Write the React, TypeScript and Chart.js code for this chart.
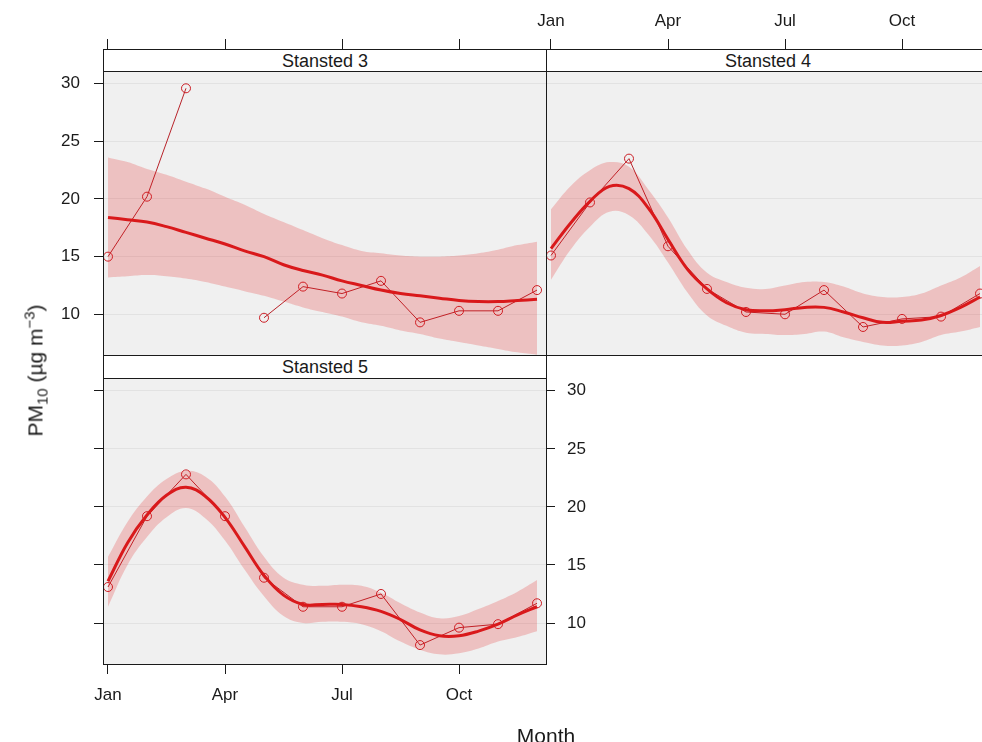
import React, { useEffect, useRef } from 'react';
import { Chart, registerables } from 'chart.js';

Chart.register(...registerables);

// ---------------- data ----------------
const MONTHS = [1, 2, 3, 4, 5, 6, 7, 8, 9, 10, 11, 12];
const FIT_X = [1, 1.5, 2, 2.5, 3, 3.5, 4, 4.5, 5, 5.5, 6, 6.5, 7, 7.5, 8, 8.5, 9, 9.5, 10, 10.5, 11, 11.5, 12];
const MONTH_TICK_VALUES = [1, 4, 7, 10];
const MONTH_TICK_LABELS = ['Jan', 'Apr', 'Jul', 'Oct'];
const Y_TICKS = [10, 15, 20, 25, 30];

const S3_OBS = [15.0, 20.2, 29.6, null, 9.7, 12.4, 11.8, 12.9, 9.3, 10.3, 10.3, 12.1];
const S3_FIT = [18.4, 18.2, 18.0, 17.6, 17.1, 16.6, 16.1, 15.5, 15.0, 14.3, 13.8, 13.4, 12.9, 12.5, 12.1, 11.8, 11.6, 11.4, 11.2, 11.1, 11.1, 11.2, 11.3];
const S3_UP = [23.6, 23.2, 22.6, 22.1, 21.5, 20.9, 20.2, 19.5, 18.7, 18.0, 17.3, 16.6, 16.0, 15.5, 15.3, 15.1, 15.0, 15.0, 15.1, 15.3, 15.6, 16.0, 16.3];
const S3_LO = [13.2, 13.3, 13.4, 13.3, 13.1, 12.8, 12.4, 12.0, 11.6, 11.1, 10.6, 10.2, 9.8, 9.3, 9.0, 8.6, 8.3, 7.9, 7.6, 7.3, 7.0, 6.7, 6.5];

const S4_OBS = [15.1, 19.7, 23.5, 15.9, 12.2, 10.2, 10.0, 12.1, 8.9, 9.6, 9.8, 11.8];
const S4_FIT = [15.7, 17.9, 19.8, 21.1, 20.9, 19.2, 16.5, 13.9, 12.2, 11.0, 10.4, 10.3, 10.4, 10.6, 10.6, 10.2, 9.7, 9.3, 9.4, 9.5, 9.9, 10.6, 11.5];
const S4_UP = [19.1, 21.1, 22.5, 23.2, 22.8, 20.8, 18.4, 15.6, 13.6, 12.8, 12.3, 12.2, 12.5, 12.8, 12.8, 12.4, 11.8, 11.5, 11.5, 11.8, 12.5, 13.2, 14.2];
const S4_LO = [13.0, 15.6, 17.6, 18.9, 18.6, 16.9, 14.5, 11.9, 9.9, 9.0, 8.4, 8.3, 8.2, 8.3, 8.5, 8.0, 7.6, 7.3, 7.3, 7.6, 8.2, 8.5, 8.9];

const S5_OBS = [13.1, 19.2, 22.8, 19.2, 13.9, 11.4, 11.4, 12.5, 8.1, 9.6, 9.9, 11.7];
const S5_FIT = [13.6, 16.9, 19.3, 21.0, 21.7, 20.9, 19.1, 16.6, 14.1, 12.4, 11.6, 11.6, 11.6, 11.4, 11.0, 10.3, 9.4, 8.9, 8.9, 9.3, 9.9, 10.7, 11.4];
const S5_UP = [15.7, 18.7, 20.9, 22.4, 23.1, 22.6, 20.9, 18.3, 15.7, 13.9, 13.3, 13.2, 13.3, 13.2, 12.6, 11.7, 10.9, 10.4, 10.6, 11.2, 11.9, 12.7, 13.7];
const S5_LO = [11.4, 15.0, 17.4, 19.1, 19.9, 19.0, 17.1, 14.6, 12.3, 10.6, 10.0, 10.1, 10.1, 9.9, 9.3, 8.4, 7.7, 7.3, 7.4, 7.8, 8.4, 8.8, 9.3];

const X_MIN = 0.872;
const X_MAX = 12.23;
const Y_MIN = 6.47;
const Y_MAX = 31.1;

// ---------------- style ----------------
const FONT = "'Liberation Sans', Arial, Helvetica, sans-serif";
const INK = '#1a1a1a';
const PANEL_BG = '#f0f0f0';
const GRID = '#e2e2e2';
const BAND = 'rgba(228, 26, 28, 0.22)';
const FIT_COLOR = '#d7191c';
const OBS_LINE = '#b8232a';
const OBS_POINT = '#cc1f26';
const tickFont = { family: FONT, size: 17 };

type Kind = 'topLeft' | 'topRight' | 'bottomLeft';
type Pad = { left: number; right: number; top: number; bottom: number };

function monthLabel(v: number) {
  const i = MONTH_TICK_VALUES.indexOf(v);
  return i >= 0 ? MONTH_TICK_LABELS[i] : '';
}

function zeroPadding(axis: any) {
  axis.paddingLeft = 0;
  axis.paddingRight = 0;
  axis.paddingTop = 0;
  axis.paddingBottom = 0;
}

function xAxis(position: 'top' | 'bottom', labels: boolean, tickLength: number, size: number, padding: number) {
  return {
    type: 'linear',
    position,
    min: X_MIN,
    max: X_MAX,
    afterBuildTicks: (axis: any) => {
      axis.ticks = MONTH_TICK_VALUES.map((v) => ({ value: v }));
    },
    afterFit: (axis: any) => {
      axis.height = size;
      zeroPadding(axis);
    },
    grid: { display: true, drawOnChartArea: false, drawTicks: true, tickLength, tickColor: INK, tickWidth: 1 },
    border: { display: false },
    ticks: {
      display: labels,
      font: tickFont,
      color: INK,
      padding,
      maxRotation: 0,
      autoSkip: false,
      callback: (v: any) => monthLabel(Number(v)),
    },
  };
}

function yAxis(position: 'left' | 'right', labels: boolean, marks: boolean, gridOn: boolean, size: number, padding: number) {
  return {
    type: 'linear',
    position,
    min: Y_MIN,
    max: Y_MAX,
    afterBuildTicks: (axis: any) => {
      axis.ticks = Y_TICKS.map((v) => ({ value: v }));
    },
    afterFit: (axis: any) => {
      axis.width = size;
      zeroPadding(axis);
    },
    grid: {
      display: true,
      drawOnChartArea: gridOn,
      color: GRID,
      lineWidth: 1,
      drawTicks: marks,
      tickLength: 9,
      tickColor: INK,
      tickWidth: 1,
    },
    border: { display: false },
    ticks: { display: labels, font: tickFont, color: INK, padding, autoSkip: false },
  };
}

const panelPlugin = {
  id: 'panelFrame',
  beforeDraw(chart: any) {
    const { ctx, chartArea: a } = chart;
    ctx.save();
    ctx.fillStyle = PANEL_BG;
    ctx.fillRect(a.left, a.top, a.right - a.left, a.bottom - a.top);
    ctx.restore();
  },
  afterDraw(chart: any) {
    const { ctx, chartArea: a } = chart;
    ctx.save();
    ctx.strokeStyle = INK;
    ctx.lineWidth = 1;
    ctx.strokeRect(Math.round(a.left) + 0.5, Math.round(a.top) + 0.5, Math.round(a.right - a.left), Math.round(a.bottom - a.top));
    ctx.restore();
  },
};

function buildConfig(kind: Kind, obs: (number | null)[], fit: number[], up: number[], lo: number[], pad: Pad) {
  const curve = (arr: number[]) => FIT_X.map((x, i) => ({ x, y: arr[i] }));
  const datasets: any[] = [
    {
      data: curve(up),
      borderWidth: 0,
      pointRadius: 0,
      fill: false,
      tension: 0.4,
      borderColor: 'rgba(0,0,0,0)',
    },
    {
      data: curve(lo),
      borderWidth: 0,
      pointRadius: 0,
      fill: '-1',
      backgroundColor: BAND,
      tension: 0.4,
      borderColor: 'rgba(0,0,0,0)',
    },
    {
      data: curve(fit),
      borderWidth: 3,
      borderColor: FIT_COLOR,
      pointRadius: 0,
      fill: false,
      tension: 0.4,
    },
    {
      data: MONTHS.map((m, i) => ({ x: m, y: obs[i] })),
      borderWidth: 1,
      borderColor: OBS_LINE,
      pointRadius: 4.5,
      pointStyle: 'circle',
      pointBorderWidth: 1,
      pointBorderColor: OBS_POINT,
      pointBackgroundColor: 'rgba(0,0,0,0)',
      fill: false,
      tension: 0,
      spanGaps: false,
    },
  ];

  let scales: any;
  if (kind === 'topLeft') {
    scales = { x: xAxis('top', false, 32, 71, 0), y: yAxis('left', true, true, true, 103, 14) };
  } else if (kind === 'topRight') {
    scales = { x: xAxis('top', true, 32, 71, 7), y: yAxis('left', false, false, true, 0, 0) };
  } else {
    scales = {
      x: xAxis('bottom', true, 10, 78, 11),
      y: yAxis('left', false, true, true, 103, 0),
      y2: yAxis('right', true, true, false, 60, 12),
    };
  }

  return {
    type: 'line',
    data: { datasets },
    options: {
      responsive: false,
      animation: false,
      devicePixelRatio: 1,
      events: [],
      layout: { padding: pad, autoPadding: false },
      scales,
      plugins: {
        legend: { display: false },
        tooltip: { enabled: false },
        title: { display: false },
      },
    },
    plugins: [panelPlugin],
  } as any;
}

type Box = { x: number; y: number; w: number; h: number; pad: Pad };

function Panel(props: { kind: Kind; obs: (number | null)[]; fit: number[]; up: number[]; lo: number[]; box: Box }) {
  const ref = useRef<HTMLCanvasElement | null>(null);
  const { kind, obs, fit, up, lo, box } = props;
  useEffect(() => {
    if (!ref.current) return;
    const chart = new Chart(ref.current, buildConfig(kind, obs, fit, up, lo, box.pad));
    return () => chart.destroy();
  }, []);
  return (
    <canvas
      ref={ref}
      width={box.w}
      height={box.h}
      style={{ position: 'absolute', left: box.x, top: box.y, width: box.w, height: box.h }}
    />
  );
}

function Strip(props: { label: string; x: number; y: number; w: number; h: number }) {
  return (
    <div
      style={{
        position: 'absolute',
        left: props.x,
        top: props.y,
        width: props.w,
        height: props.h,
        boxSizing: 'border-box',
        border: `1px solid ${INK}`,
        background: '#ffffff',
        display: 'flex',
        alignItems: 'center',
        justifyContent: 'center',
        fontFamily: FONT,
        fontSize: 18,
        color: INK,
        lineHeight: 1,
      }}
    >
      {props.label}
    </div>
  );
}

export default function App() {
  return (
    <div
      style={{
        position: 'fixed',
        left: 0,
        top: 0,
        width: 982,
        height: 742,
        overflow: 'hidden',
        background: '#ffffff',
      }}
    >
      <Panel kind="topLeft" obs={S3_OBS} fit={S3_FIT} up={S3_UP} lo={S3_LO}
        box={{ x: 0, y: 0, w: 548, h: 357, pad: { left: 0, right: 2, top: 0, bottom: 2 } }} />
      <Panel kind="topRight" obs={S4_OBS} fit={S4_FIT} up={S4_UP} lo={S4_LO}
        box={{ x: 516, y: 0, w: 475, h: 357, pad: { left: 30, right: 2, top: 0, bottom: 2 } }} />
      <Panel kind="bottomLeft" obs={S5_OBS} fit={S5_FIT} up={S5_UP} lo={S5_LO}
        box={{ x: 0, y: 376, w: 608, h: 366, pad: { left: 0, right: 2, top: 2, bottom: 0 } }} />

      <Strip label="Stansted 3" x={103} y={49} w={444} h={23} />
      <Strip label="Stansted 4" x={546} y={49} w={444} h={23} />
      <Strip label="Stansted 5" x={103} y={355} w={444} h={24} />

      <div
        style={{
          position: 'absolute',
          left: 35 - 110,
          top: 370 - 10.5,
          width: 220,
          height: 21,
          lineHeight: '21px',
          fontSize: 21,
          fontFamily: FONT,
          color: INK,
          textAlign: 'center',
          whiteSpace: 'nowrap',
          transform: 'rotate(-90deg)',
        }}
      >
        PM<sub style={{ fontSize: 15, lineHeight: 0 }}>10</sub> (µg m<sup style={{ fontSize: 15, lineHeight: 0 }}>−3</sup>)
      </div>

      <div
        style={{
          position: 'absolute',
          left: 446,
          top: 725,
          width: 200,
          height: 21,
          lineHeight: '21px',
          fontSize: 21,
          fontFamily: FONT,
          color: INK,
          textAlign: 'center',
          whiteSpace: 'nowrap',
        }}
      >
        Month
      </div>
    </div>
  );
}
